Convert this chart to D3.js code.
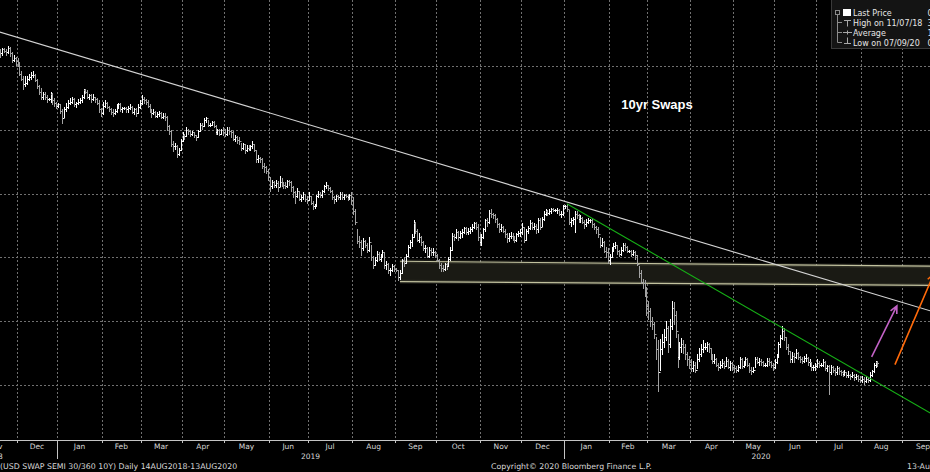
<!DOCTYPE html>
<meta charset="utf-8">
<style>
body { margin: 0; background: #000; }
svg { display: block; }
text { font-family: "DejaVu Sans", sans-serif; }
</style>
<body></body>
<script src="https://d3js.org/d3.v7.min.js"></script>
<script>
// daily bars of the 10y swap rate, one row per trading day: [high, low, close] in %
const nov18 = [[3.15,3.09,3.12],[3.13,3.07,3.10],[3.14,3.09,3.13],[3.14,3.11,3.12],[3.13,3.09,3.11],[3.16,3.10,3.14],[3.15,3.08,3.10],[3.11,3.03,3.05],[3.09,3.04,3.06],[3.07,3.01,3.04]]
const dec18 = [[3.06,3.00,3.02],[3.03,2.93,2.94],[2.96,2.89,2.90],[2.92,2.82,2.86],[2.92,2.84,2.87],[2.92,2.86,2.90],[2.94,2.89,2.91],[2.95,2.90,2.93],[2.96,2.91,2.93],[2.94,2.88,2.89],[2.90,2.83,2.84],[2.85,2.78,2.80],[2.83,2.74,2.76],[2.80,2.74,2.78],[2.80,2.74,2.76],[2.77,2.72,2.74],[2.75,2.73,2.74],[2.80,2.72,2.78],[2.79,2.70,2.73],[2.75,2.69,2.71],[2.72,2.67,2.69]]
const jan19 = [[2.71,2.68,2.70],[2.70,2.63,2.65],[2.66,2.55,2.59],[2.68,2.60,2.66],[2.71,2.65,2.68],[2.73,2.67,2.71],[2.75,2.70,2.72],[2.76,2.71,2.74],[2.75,2.69,2.70],[2.72,2.68,2.71],[2.74,2.70,2.72],[2.75,2.71,2.73],[2.77,2.72,2.76],[2.82,2.75,2.81],[2.82,2.79,2.80],[2.81,2.75,2.76],[2.78,2.74,2.77],[2.78,2.72,2.74],[2.78,2.73,2.76],[2.76,2.72,2.74],[2.75,2.70,2.71],[2.73,2.64,2.66],[2.67,2.61,2.63]]
const feb19 = [[2.72,2.62,2.69],[2.73,2.68,2.71],[2.72,2.67,2.68],[2.69,2.65,2.66],[2.67,2.62,2.64],[2.66,2.61,2.63],[2.66,2.62,2.65],[2.70,2.64,2.68],[2.71,2.67,2.70],[2.71,2.65,2.66],[2.68,2.64,2.67],[2.68,2.66,2.67],[2.68,2.64,2.66],[2.69,2.64,2.67],[2.70,2.66,2.68],[2.69,2.63,2.64],[2.67,2.62,2.66],[2.67,2.61,2.63],[2.70,2.63,2.68],[2.73,2.67,2.71]]
const mar19 = [[2.77,2.70,2.74],[2.76,2.71,2.73],[2.74,2.70,2.72],[2.73,2.68,2.69],[2.70,2.64,2.65],[2.66,2.60,2.63],[2.66,2.62,2.64],[2.65,2.60,2.61],[2.64,2.60,2.62],[2.65,2.61,2.63],[2.64,2.59,2.60],[2.63,2.59,2.61],[2.63,2.58,2.60],[2.61,2.50,2.53],[2.54,2.47,2.49],[2.50,2.37,2.39],[2.41,2.33,2.37],[2.40,2.35,2.37],[2.38,2.29,2.31],[2.36,2.30,2.34],[2.43,2.34,2.41]]
const apr19 = [[2.48,2.41,2.46],[2.47,2.43,2.45],[2.52,2.45,2.50],[2.51,2.47,2.49],[2.50,2.45,2.47],[2.49,2.46,2.48],[2.48,2.44,2.46],[2.46,2.42,2.44],[2.50,2.44,2.49],[2.55,2.49,2.54],[2.55,2.51,2.53],[2.59,2.53,2.58],[2.60,2.56,2.59],[2.58,2.53,2.54],[2.55,2.53,2.54],[2.57,2.54,2.56],[2.57,2.52,2.53],[2.54,2.47,2.48],[2.51,2.47,2.50],[2.51,2.46,2.47],[2.51,2.47,2.50],[2.52,2.46,2.48]]
const may19 = [[2.51,2.45,2.47],[2.52,2.46,2.50],[2.52,2.47,2.49],[2.50,2.44,2.48],[2.49,2.42,2.43],[2.46,2.41,2.44],[2.45,2.40,2.42],[2.44,2.39,2.41],[2.40,2.34,2.36],[2.40,2.35,2.39],[2.39,2.32,2.34],[2.38,2.33,2.36],[2.38,2.34,2.35],[2.38,2.34,2.37],[2.41,2.36,2.39],[2.39,2.33,2.34],[2.34,2.25,2.27],[2.30,2.25,2.28],[2.29,2.25,2.27],[2.28,2.20,2.22],[2.24,2.17,2.21],[2.22,2.16,2.18],[2.19,2.11,2.13]]
const jun19 = [[2.13,2.02,2.06],[2.11,2.04,2.09],[2.10,2.05,2.07],[2.11,2.05,2.08],[2.10,2.02,2.05],[2.14,2.06,2.09],[2.12,2.06,2.08],[2.09,2.04,2.07],[2.09,2.04,2.06],[2.11,2.05,2.10],[2.11,2.07,2.09],[2.10,2.02,2.05],[2.06,1.97,2.01],[2.02,1.93,1.98],[2.04,1.97,2.02],[2.02,1.95,1.96],[1.99,1.94,1.97],[2.01,1.96,2.00],[2.00,1.94,1.96],[1.98,1.93,1.95]]
const jul19 = [[2.01,1.95,1.98],[1.98,1.92,1.93],[1.94,1.88,1.90],[1.92,1.89,1.91],[1.99,1.90,1.98],[2.02,1.97,2.00],[2.01,1.97,1.99],[2.03,1.97,2.02],[2.07,2.01,2.06],[2.09,2.04,2.07],[2.07,2.03,2.04],[2.05,2.01,2.02],[2.03,1.96,1.97],[1.98,1.93,1.96],[1.99,1.94,1.98],[1.99,1.96,1.97],[2.01,1.96,2.00],[2.01,1.96,1.97],[2.00,1.96,1.99],[2.00,1.97,1.98],[1.99,1.95,1.97],[2.00,1.96,1.99],[2.01,1.92,1.95]]
const aug19 = [[1.97,1.84,1.86],[1.88,1.76,1.78],[1.72,1.61,1.63],[1.67,1.58,1.62],[1.64,1.52,1.57],[1.65,1.56,1.63],[1.64,1.58,1.60],[1.61,1.54,1.56],[1.66,1.55,1.62],[1.60,1.48,1.50],[1.51,1.42,1.44],[1.50,1.44,1.48],[1.55,1.47,1.53],[1.54,1.48,1.49],[1.53,1.47,1.51],[1.56,1.50,1.54],[1.54,1.42,1.44],[1.47,1.41,1.45],[1.46,1.38,1.40],[1.42,1.36,1.40],[1.45,1.39,1.43],[1.44,1.39,1.41]]
const sep19 = [[1.42,1.39,1.40],[1.40,1.32,1.35],[1.40,1.33,1.38],[1.49,1.38,1.48],[1.50,1.43,1.46],[1.53,1.46,1.51],[1.60,1.51,1.58],[1.64,1.57,1.62],[1.68,1.59,1.66],[1.79,1.66,1.77],[1.78,1.69,1.71],[1.72,1.63,1.64],[1.69,1.62,1.66],[1.67,1.60,1.62],[1.63,1.56,1.57],[1.60,1.54,1.57],[1.58,1.50,1.51],[1.58,1.50,1.56],[1.57,1.52,1.54],[1.57,1.52,1.54],[1.55,1.50,1.52]]
const oct19 = [[1.53,1.47,1.48],[1.49,1.42,1.44],[1.46,1.39,1.42],[1.44,1.39,1.41],[1.46,1.40,1.45],[1.46,1.41,1.43],[1.50,1.43,1.49],[1.58,1.48,1.56],[1.69,1.56,1.67],[1.68,1.64,1.66],[1.72,1.65,1.70],[1.71,1.64,1.66],[1.71,1.65,1.69],[1.72,1.66,1.70],[1.74,1.69,1.73],[1.74,1.68,1.70],[1.73,1.68,1.71],[1.74,1.69,1.72],[1.76,1.71,1.74],[1.78,1.73,1.77],[1.78,1.72,1.74],[1.76,1.64,1.66],[1.68,1.60,1.62]]
const nov19 = [[1.68,1.60,1.66],[1.73,1.65,1.72],[1.80,1.71,1.79],[1.81,1.75,1.78],[1.87,1.77,1.85],[1.88,1.82,1.84],[1.85,1.81,1.83],[1.84,1.78,1.80],[1.81,1.74,1.76],[1.77,1.70,1.72],[1.76,1.71,1.74],[1.75,1.70,1.71],[1.72,1.66,1.68],[1.69,1.62,1.65],[1.69,1.63,1.67],[1.70,1.65,1.67],[1.69,1.64,1.66],[1.67,1.62,1.64],[1.69,1.63,1.68],[1.71,1.67,1.69],[1.72,1.67,1.70]]
const dec19 = [[1.77,1.68,1.74],[1.74,1.62,1.64],[1.72,1.64,1.71],[1.75,1.69,1.73],[1.79,1.72,1.77],[1.78,1.72,1.74],[1.77,1.72,1.75],[1.76,1.69,1.72],[1.81,1.70,1.79],[1.81,1.72,1.74],[1.82,1.75,1.80],[1.86,1.79,1.84],[1.88,1.83,1.86],[1.87,1.83,1.85],[1.88,1.84,1.86],[1.89,1.85,1.88],[1.89,1.86,1.87],[1.88,1.86,1.87],[1.89,1.85,1.87],[1.88,1.83,1.84],[1.86,1.82,1.84],[1.91,1.83,1.90]]
const jan20 = [[1.91,1.89,1.90],[1.92,1.86,1.88],[1.87,1.76,1.78],[1.81,1.75,1.79],[1.82,1.76,1.80],[1.86,1.70,1.84],[1.86,1.81,1.83],[1.84,1.78,1.80],[1.83,1.78,1.81],[1.82,1.77,1.78],[1.79,1.73,1.76],[1.80,1.75,1.78],[1.81,1.77,1.79],[1.80,1.78,1.79],[1.80,1.74,1.76],[1.77,1.72,1.74],[1.75,1.69,1.72],[1.74,1.66,1.68],[1.66,1.58,1.60],[1.65,1.59,1.62],[1.63,1.54,1.55],[1.58,1.50,1.54],[1.57,1.46,1.48]]
const feb20 = [[1.53,1.45,1.50],[1.58,1.50,1.57],[1.61,1.55,1.59],[1.62,1.57,1.60],[1.60,1.53,1.55],[1.56,1.51,1.53],[1.58,1.52,1.56],[1.61,1.55,1.60],[1.61,1.56,1.58],[1.59,1.54,1.55],[1.56,1.54,1.55],[1.56,1.51,1.53],[1.56,1.52,1.54],[1.55,1.49,1.52],[1.52,1.44,1.45],[1.43,1.35,1.38],[1.40,1.30,1.31],[1.33,1.26,1.30],[1.32,1.20,1.25],[1.27,1.05,1.12]]
const mar20 = [[1.16,1.02,1.08],[1.10,0.96,1.00],[1.03,0.94,0.98],[0.99,0.87,0.90],[0.88,0.70,0.78],[0.85,0.45,0.60],[0.86,0.62,0.78],[0.90,0.74,0.84],[0.94,0.80,0.88],[1.00,0.85,0.95],[0.96,0.76,0.82],[1.02,0.80,0.96],[1.16,0.94,1.10],[1.15,0.98,1.05],[1.08,0.88,0.92],[0.90,0.64,0.72],[0.84,0.70,0.80],[0.87,0.76,0.82],[0.85,0.75,0.80],[0.82,0.70,0.74],[0.76,0.66,0.70],[0.73,0.63,0.68]]
const apr20 = [[0.70,0.61,0.63],[0.69,0.61,0.66],[0.68,0.60,0.62],[0.74,0.63,0.70],[0.79,0.69,0.74],[0.82,0.73,0.78],[0.85,0.76,0.80],[0.83,0.78,0.80],[0.84,0.77,0.82],[0.83,0.76,0.79],[0.79,0.70,0.71],[0.74,0.67,0.69],[0.74,0.67,0.70],[0.71,0.65,0.66],[0.67,0.62,0.64],[0.69,0.63,0.66],[0.70,0.64,0.67],[0.69,0.63,0.65],[0.72,0.65,0.69],[0.70,0.63,0.64],[0.69,0.62,0.67],[0.68,0.62,0.64]]
const may20 = [[0.66,0.60,0.63],[0.65,0.60,0.62],[0.66,0.61,0.64],[0.72,0.63,0.70],[0.71,0.63,0.65],[0.69,0.64,0.67],[0.72,0.66,0.70],[0.71,0.65,0.66],[0.67,0.60,0.62],[0.64,0.59,0.61],[0.64,0.60,0.62],[0.72,0.64,0.70],[0.72,0.67,0.68],[0.71,0.66,0.69],[0.70,0.66,0.68],[0.69,0.65,0.66],[0.67,0.65,0.66],[0.71,0.65,0.69],[0.71,0.66,0.68],[0.69,0.64,0.66],[0.67,0.62,0.64]]
const jun20 = [[0.70,0.63,0.68],[0.74,0.67,0.72],[0.84,0.72,0.82],[0.89,0.80,0.87],[0.96,0.86,0.92],[0.95,0.85,0.88],[0.88,0.78,0.80],[0.82,0.74,0.77],[0.77,0.68,0.70],[0.76,0.68,0.73],[0.75,0.68,0.72],[0.78,0.71,0.75],[0.76,0.70,0.72],[0.73,0.68,0.70],[0.72,0.67,0.69],[0.73,0.68,0.71],[0.74,0.69,0.71],[0.72,0.66,0.68],[0.70,0.65,0.68],[0.68,0.62,0.64],[0.66,0.62,0.64],[0.67,0.62,0.65]]
const jul20 = [[0.70,0.64,0.67],[0.69,0.64,0.66],[0.67,0.65,0.66],[0.70,0.65,0.68],[0.69,0.62,0.63],[0.66,0.61,0.65],[0.66,0.43,0.60],[0.66,0.59,0.64],[0.65,0.60,0.62],[0.63,0.58,0.60],[0.65,0.59,0.63],[0.64,0.59,0.61],[0.62,0.58,0.60],[0.61,0.57,0.59],[0.62,0.58,0.60],[0.60,0.56,0.58],[0.61,0.56,0.58],[0.59,0.55,0.57],[0.60,0.56,0.58],[0.59,0.54,0.56],[0.59,0.55,0.57],[0.58,0.53,0.55],[0.57,0.52,0.54]]
const aug20 = [[0.57,0.52,0.55],[0.56,0.51,0.53],[0.57,0.52,0.55],[0.56,0.52,0.54],[0.60,0.53,0.58],[0.62,0.57,0.61],[0.67,0.60,0.66],[0.69,0.64,0.68],[0.69,0.65,0.67]]

const monthBlocks = [nov18, dec18, jan19, feb19, mar19, apr19, may19, jun19, jul19, aug19, sep19, oct19,
    nov19, dec19, jan20, feb20, mar20, apr20, may20, jun20, jul20, aug20]
const firstBarDate = '2018-11-19'

// axis span of the original chart (trading days only)
const axisStart = '2018-10-01'
const axisEnd = '2020-10-09'
const rateTicks = [0.5, 1.0, 1.5, 2.0, 2.5, 3.0]

// drawn annotations, in [date, rate]
const trendLines = [
    { from: ['2018-11-19', 3.27], to: ['2020-09-30', 1.05], color: '#d4d4d4' },
    { from: ['2020-01-02', 1.92], to: ['2020-09-30', 0.22], color: '#16b016' }
]
const band = { from: '2019-09-04', to: '2020-09-30', top: [1.47, 1.43], bottom: [1.31, 1.28] }
const arrows = [
    { from: ['2020-08-10', 0.72], to: ['2020-08-27', 1.12], color: '#c262c6' },
    { from: ['2020-08-26', 0.66], to: ['2020-09-23', 1.37], color: '#ff6a0a' }
]

const title = '10yr Swaps'
const titleAt = ['2020-02-11', 2.66]
const legendLabels = ['Last Price', 'High on 11/07/18', 'Average', 'Low on 07/09/20']
const legendValues = ['0.6706', '3.2670', '1.6823', '0.4310']
const footerLeft = '(USD SWAP SEMI 30/360 10Y)  Daily 14AUG2018-13AUG2020'
const footerMid = 'Copyright\u00a9 2020 Bloomberg Finance L.P.'
const footerRight = '13-Aug-2020 17:24:08'

const width = 930
const height = 472
const plotBottom = 440
const fmt = d3.timeFormat('%Y-%m-%d')
const parse = d3.timeParse('%Y-%m-%d')

const days = d3.timeDay.range(parse(axisStart), d3.timeDay.offset(parse(axisEnd), 1))
    .filter(d => d.getDay() !== 0 && d.getDay() !== 6)
const dayIndex = new Map(days.map((d, i) => [fmt(d), i]))
const idx = s => dayIndex.get(s)

const x = d3.scaleLinear()
    .domain([idx('2018-12-03'), idx('2020-09-01')])
    .range([17.5, 902.7])
const y = d3.scaleLinear()
    .domain([0.5, 3.0])
    .range([385, 66])

const bars = buildBars()
const svg = d3.select('body').append('svg')
    .attr('width', width)
    .attr('height', height)
svg.append('rect').attr('width', width).attr('height', height).attr('fill', '#000')

const plot = svg.append('g')
svg.append('clipPath').attr('id', 'plotclip')
    .append('rect').attr('width', width).attr('height', plotBottom)
plot.attr('clip-path', 'url(#plotclip)')

const months = monthStarts()
drawGrid(plot)
drawBand(plot)
drawBars(plot)
drawTrendLines(plot)
drawArrows(plot)
drawTitle(plot)
drawLegend(svg)
drawAxis(svg)
drawFooter(svg)

function buildBars () {
    let i = idx(firstBarDate)
    let prev = null
    const out = []
    monthBlocks.flat().forEach(([high, low, close]) => {
        const open = prev === null ? close : prev
        out.push({ i, high, low, open, close })
        prev = close
        i++
    })
    return out
}

function monthStarts () {
    const list = []
    days.forEach((d, i) => {
        if (i === 0 || d.getMonth() !== days[i - 1].getMonth()) list.push({ date: d, i })
    })
    return list.map(m => ({ ...m, tx: x(m.i) - 1 }))
}

function drawGrid (g) {
    g.append('g').selectAll('line')
        .data(months)
        .join('line')
            .attr('x1', d => Math.round(d.tx) + 0.5)
            .attr('x2', d => Math.round(d.tx) + 0.5)
            .attr('y1', 0)
            .attr('y2', plotBottom)
            .attr('stroke', '#707070')
            .attr('stroke-dasharray', '2,2')
    g.append('g').selectAll('line')
        .data(rateTicks)
        .join('line')
            .attr('x1', 0)
            .attr('x2', width)
            .attr('y1', d => Math.round(y(d)) + 0.5)
            .attr('y2', d => Math.round(y(d)) + 0.5)
            .attr('stroke', '#707070')
            .attr('stroke-dasharray', '2,2')
}

function drawBand (g) {
    const x0 = x(idx(band.from))
    const x1 = x(idx(band.to))
    const pts = [[x0, y(band.top[0])], [x1, y(band.top[1])], [x1, y(band.bottom[1])], [x0, y(band.bottom[0])]]
    g.append('polygon')
        .attr('points', pts.map(p => p.join(',')).join(' '))
        .attr('fill', '#1a1a14')
    const edges = [[pts[0], pts[1]], [pts[3], pts[2]]]
    edges.forEach(([a, b]) => {
        g.append('line')
            .attr('x1', a[0]).attr('y1', a[1]).attr('x2', b[0]).attr('y2', b[1])
            .attr('stroke', '#bcbc98').attr('stroke-width', 4).attr('opacity', 0.12)
        g.append('line')
            .attr('x1', a[0]).attr('y1', a[1]).attr('x2', b[0]).attr('y2', b[1])
            .attr('stroke', '#c2c29f').attr('stroke-width', 1.2)
    })
}

function drawBars (g) {
    g.append('g').selectAll('path')
        .data(bars)
        .join('path')
            .attr('d', d => {
                const cx = Math.round(x(d.i)) + 0.5
                const yo = Math.round(y(d.open)) + 0.5
                const yc = Math.round(y(d.close)) + 0.5
                return `M${cx},${Math.round(y(d.high))}V${Math.round(y(d.low)) + 1}` +
                    `M${cx - 1.5},${yo}H${cx}M${cx},${yc}H${cx + 1.5}`
            })
            .attr('stroke', d => d.close < d.open ? '#a2a2a2' : '#ffffff')
            .attr('fill', 'none')
            .attr('stroke-width', 1)
}

function drawTrendLines (g) {
    g.append('g').selectAll('line')
        .data(trendLines)
        .join('line')
            .attr('x1', d => x(idx(d.from[0])))
            .attr('y1', d => y(d.from[1]))
            .attr('x2', d => x(idx(d.to[0])))
            .attr('y2', d => y(d.to[1]))
            .attr('stroke', d => d.color)
            .attr('stroke-width', 1.1)
}

function drawArrows (g) {
    arrows.forEach(a => {
        const x1 = x(idx(a.from[0]))
        const y1 = y(a.from[1])
        const x2 = x(idx(a.to[0]))
        const y2 = y(a.to[1])
        const ang = Math.atan2(y2 - y1, x2 - x1)
        const head = 8
        const spread = 0.45
        const hx1 = x2 - head * Math.cos(ang - spread)
        const hy1 = y2 - head * Math.sin(ang - spread)
        const hx2 = x2 - head * Math.cos(ang + spread)
        const hy2 = y2 - head * Math.sin(ang + spread)
        g.append('path')
            .attr('d', `M${x1},${y1}L${x2},${y2}M${hx1},${hy1}L${x2},${y2}L${hx2},${hy2}`)
            .attr('stroke', a.color)
            .attr('stroke-width', 1.6)
            .attr('fill', 'none')
    })
}

function drawTitle (g) {
    g.append('text')
        .attr('x', x(idx(titleAt[0])))
        .attr('y', y(titleAt[1]))
        .attr('fill', '#ffffff')
        .style('font-family', '"Liberation Sans", Arial, sans-serif')
        .style('font-weight', 'bold')
        .style('font-size', '13px')
        .text(title)
}

function drawLegend (s) {
    const g = s.append('g')
    g.append('rect')
        .attr('x', 831.5).attr('y', -1).attr('width', 110).attr('height', 49.5)
        .attr('fill', '#141414').attr('stroke', '#3a3a3a')
    const rowsY = [12.5, 22.5, 32.5, 42.5]
    g.append('path')
        .attr('d', `M837.5,15V${rowsY[3]}` + rowsY.slice(1).map(r => `M837.5,${r}H842`).join(''))
        .attr('stroke', '#8c8c8c').attr('fill', 'none')
    g.append('rect').attr('x', 835.5).attr('y', 10.5).attr('width', 4).attr('height', 4)
        .attr('fill', 'none').attr('stroke', '#8c8c8c')
    g.append('rect').attr('x', 843).attr('y', 9).attr('width', 8).attr('height', 7).attr('fill', '#ffffff')
    const marks = [
        `M844,${rowsY[1] - 2}H851M847.5,${rowsY[1] - 2}V${rowsY[1] + 4}`,
        `M843,${rowsY[2]}H852M847.5,${rowsY[2] - 2}V${rowsY[2] + 2}`,
        `M847.5,${rowsY[3] - 5}V${rowsY[3] + 1}M844,${rowsY[3] + 1}H851`
    ]
    g.append('path').attr('d', marks.join('')).attr('stroke', '#a8a8a8').attr('fill', 'none')
    g.selectAll('text.lab')
        .data(legendLabels)
        .join('text')
            .attr('class', 'lab')
            .attr('x', 853)
            .attr('y', (d, i) => rowsY[i] + 3.5)
            .attr('fill', '#e6e6e6')
            .style('font-size', '8px')
            .text(d => d)
    g.selectAll('text.val')
        .data(legendValues)
        .join('text')
            .attr('class', 'val')
            .attr('x', 927.5)
            .attr('y', (d, i) => rowsY[i] + 3.5)
            .attr('fill', '#e6e6e6')
            .style('font-size', '8px')
            .text(d => d)
}

function drawAxis (s) {
    const g = s.append('g')
    g.append('line')
        .attr('x1', 0).attr('x2', width)
        .attr('y1', plotBottom + 0.5).attr('y2', plotBottom + 0.5)
        .attr('stroke', '#c4c4c4')
    g.selectAll('line.tick')
        .data(months)
        .join('line')
            .attr('class', 'tick')
            .attr('x1', d => Math.round(d.tx) + 0.5)
            .attr('x2', d => Math.round(d.tx) + 0.5)
            .attr('y1', plotBottom)
            .attr('y2', d => d.date.getMonth() === 0 ? plotBottom + 19 : plotBottom + 3)
            .attr('stroke', '#c4c4c4')
    const labelled = months.slice(0, -1).map((m, k) => ({ ...m, cx: (m.tx + months[k + 1].tx) / 2 }))
    g.selectAll('text.month')
        .data(labelled)
        .join('text')
            .attr('class', 'month')
            .attr('x', d => d.cx)
            .attr('y', plotBottom + 8.5)
            .attr('text-anchor', 'middle')
            .attr('fill', '#d8d8d8')
            .style('font-size', '7.5px')
            .text(d => d3.timeFormat('%b')(d.date))
    const jans = months.filter(m => m.date.getMonth() === 0)
    const edges = [x(0) - 1, ...jans.map(m => m.tx), x(days.length - 1) + 1]
    const years = d3.range(edges.length - 1).map(k => ({
        year: 2018 + k,
        cx: (edges[k] + edges[k + 1]) / 2
    }))
    g.selectAll('text.year')
        .data(years)
        .join('text')
            .attr('class', 'year')
            .attr('x', d => d.cx)
            .attr('y', plotBottom + 18.5)
            .attr('text-anchor', 'middle')
            .attr('fill', '#d8d8d8')
            .style('font-size', '7.5px')
            .text(d => d.year)
}

function drawFooter (s) {
    const rows = [[0, footerLeft], [491, footerMid], [907, footerRight]]
    s.selectAll('text.foot')
        .data(rows)
        .join('text')
            .attr('class', 'foot')
            .attr('x', d => d[0])
            .attr('y', 469)
            .attr('fill', '#d8d8d8')
            .style('font-size', '7.8px')
            .text(d => d[1])
}
</script>
